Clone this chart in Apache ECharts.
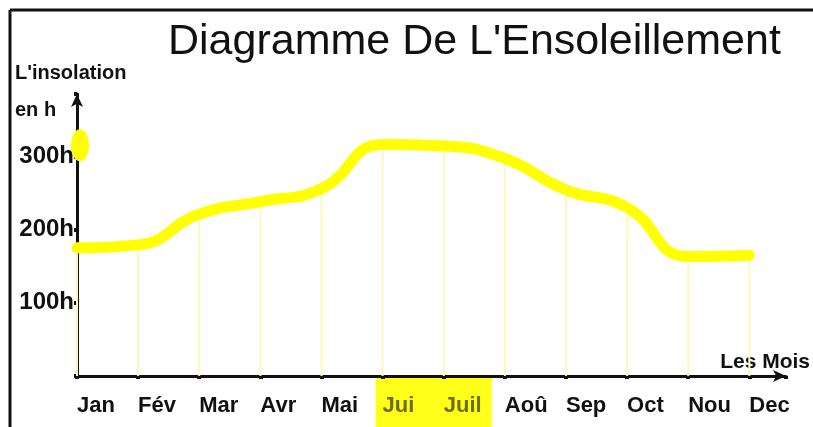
<!DOCTYPE html>
<html>
<head>
<meta charset="utf-8">
<script src="https://cdn.jsdelivr.net/npm/echarts@6/dist/echarts.min.js"></script>
<style>
  html, body { margin: 0; padding: 0; background: #fff; }
  #main { width: 813px; height: 427px; }
</style>
</head>
<body>
<div id="main"></div>
<script>
// mois (axe X)
var months = ['Jan', 'Fév', 'Mar', 'Avr', 'Mai', 'Jui', 'Juil', 'Aoû', 'Sep', 'Oct', 'Nou', 'Dec'];
// heures d'insolation
var hours = [175, 179, 221, 238, 256, 316, 314, 297, 254, 230, 163, 165];
// graduations de l'axe Y
var yTicks = [100, 200, 300];
// mois surlignés en jaune
var highlighted = ['Jui', 'Juil'];

var font = 'Liberation Sans, Arial, sans-serif';

var pts = months.map(function (m, i) { return [i, hours[i]]; });

var myChart = echarts.init(document.getElementById('main'));

var option = {
  animation: false,
  backgroundColor: '#fff',
  title: {
    text: "Diagramme De L'Ensoleillement",
    left: 163,
    top: 16,
    textStyle: { fontFamily: font, fontSize: 43, fontWeight: 'normal', color: '#111' }
  },
  grid: { left: 77, right: 23, top: 94, bottom: 51 },
  xAxis: {
    type: 'value',
    min: 0,
    max: 11.6,
    interval: 1,
    name: 'Les Mois',
    nameLocation: 'end',
    nameGap: 24,
    nameTextStyle: {
      fontFamily: font, fontSize: 21, fontWeight: 'bold', color: '#111',
      align: 'right', verticalAlign: 'bottom', padding: [0, 0, 3, 0]
    },
    axisLine: {
      lineStyle: { color: '#111', width: 3 },
      symbol: ['none', 'arrow'],
      symbolSize: [9, 13]
    },
    axisTick: { show: true, length: 3, lineStyle: { color: '#111', width: 4 } },
    splitLine: { show: false },
    axisLabel: {
      margin: 19,
      align: 'left',
      fontFamily: font,
      fontSize: 22,
      fontWeight: 'bold',
      color: '#111',
      formatter: function (v) {
        var m = months[v];
        if (v % 1 !== 0 || !m) return '';
        return highlighted.indexOf(m) >= 0 ? '{hl|' + m + '}' : m;
      },
      rich: {
        hl: { fontFamily: font, fontSize: 22, fontWeight: 'bold', color: '#6e6e00' }
      }
    }
  },
  yAxis: {
    type: 'value',
    min: 0,
    max: 385,
    interval: 100,
    axisLine: {
      show: true,
      lineStyle: { color: '#111', width: 3 },
      symbol: ['none', 'arrow'],
      symbolSize: [9, 13]
    },
    axisTick: { show: true, length: 3, lineStyle: { color: '#111', width: 4 } },
    splitLine: { show: false },
    axisLabel: {
      margin: 3,
      fontFamily: font,
      fontSize: 24,
      fontWeight: 'bold',
      color: '#111',
      formatter: function (v) {
        return yTicks.indexOf(v) >= 0 ? v + 'h' : '';
      }
    }
  },
  series: [
    {
      // traits verticaux jaune pâle sous la courbe
      type: 'bar',
      data: pts,
      barWidth: 2,
      itemStyle: { color: '#fff8bc' },
      silent: true,
      z: 1
    },
    {
      type: 'line',
      data: pts,
      smooth: 0.5,
      showSymbol: false,
      lineStyle: { color: '#ffff00', width: 11, cap: 'round', join: 'round' },
      z: 3
    }
  ]
};

myChart.setOption(option);

// éléments décoratifs placés via les échelles du graphique
var i0 = months.indexOf(highlighted[0]);
var i1 = months.indexOf(highlighted[highlighted.length - 1]);
var xa = myChart.convertToPixel({ xAxisIndex: 0 }, i0);
var xb = myChart.convertToPixel({ xAxisIndex: 0 }, i1);
var yAxisX = myChart.convertToPixel({ xAxisIndex: 0 }, 0);
var yBase = myChart.convertToPixel({ yAxisIndex: 0 }, 0);
var yBlob = myChart.convertToPixel({ yAxisIndex: 0 }, 315);

myChart.setOption({
  graphic: [
    {
      type: 'rect', z: -10,
      shape: { x: xa - 7, y: yBase + 2, width: (xb - xa) + 55, height: 427 - yBase },
      style: { fill: '#ffff1a' }
    },
    {
      type: 'ellipse', z: 100,
      shape: { cx: yAxisX + 3, cy: yBlob, rx: 9, ry: 16 },
      style: { fill: '#ffff00' }
    },
    {
      type: 'text', left: 15, top: 63,
      style: { text: "L'insolation", font: 'bold 20px ' + font, fill: '#111' }
    },
    {
      type: 'text', left: 15, top: 100,
      style: { text: 'en h', font: 'bold 20px ' + font, fill: '#111' }
    },
    {
      type: 'line',
      shape: { x1: 10, y1: 10, x2: 813, y2: 10 },
      style: { stroke: '#111', lineWidth: 3 }
    },
    {
      type: 'line',
      shape: { x1: 10, y1: 10, x2: 10, y2: 427 },
      style: { stroke: '#111', lineWidth: 3 }
    }
  ]
});

window.onresize = myChart.resize;
</script>
</body>
</html>
